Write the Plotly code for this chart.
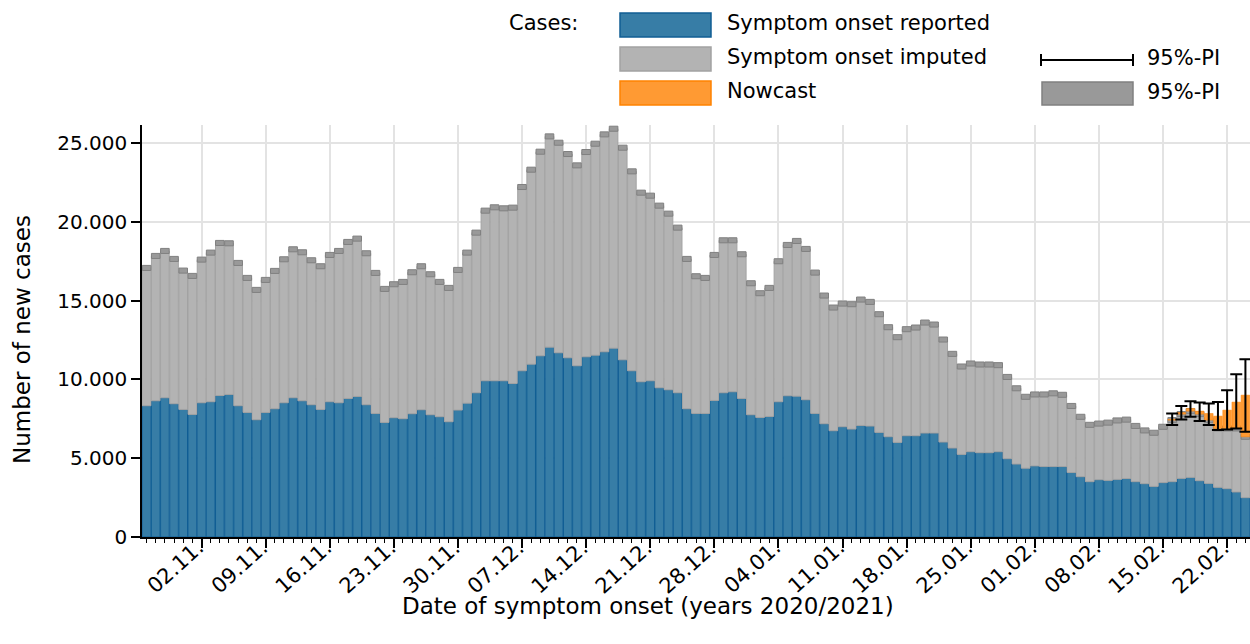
import plotly.graph_objects as go
import pandas as pd

# ---------------- data ----------------
start_date = "2020-10-27"

# cases with reported symptom onset (blue)
reported = [
    8328, 8645, 8835, 8455, 8096, 7778, 8518, 8582, 8983, 9047,
    8328, 7905, 7440, 7905, 8138, 8518, 8835, 8645, 8392, 8096,
    8582, 8518, 8793, 8920, 8392, 7842, 7271, 7567, 7504, 7821,
    8074, 7757, 7631, 7313, 8053, 8497, 9152, 9913, 9913, 9913,
    9744, 10548, 10970, 11499, 12048, 11689, 11372, 10865, 11435, 11541,
    11752, 11985, 11245, 10548, 9850, 9913, 9469, 9343, 9152, 8138,
    7842, 7842, 8666, 9152, 9216, 8793, 7757, 7588, 7652, 8582,
    8962, 8941, 8709, 7842, 7187, 6743, 6996, 6848, 7081, 7039,
    6637, 6362, 6003, 6426, 6426, 6595, 6595, 6024, 5644, 5242,
    5411, 5348, 5348, 5411, 4967, 4630, 4365, 4510, 4470, 4470,
    4470, 4090, 3826, 3509, 3636, 3593, 3657, 3710, 3509, 3382,
    3213, 3450, 3509, 3720, 3784, 3572, 3403, 3150, 3065, 2854,
    2494,
]

# reported + imputed symptom onset (top of grey bars)
onset_total = [
    17079, 17840, 18157, 17650, 16910, 16572, 17607, 18051, 18664, 18643,
    17396, 16445, 15684, 16318, 16889, 17628, 18262, 18072, 17565, 17185,
    17903, 18157, 18728, 18939, 18009, 16762, 15747, 16043, 16191, 16804,
    17185, 16677, 16191, 15811, 16952, 18051, 19319, 20714, 20926, 20862,
    20905, 22215, 23314, 24456, 25428, 25026, 24308, 23589, 24435, 24963,
    25555, 25914, 24710, 23209, 21856, 21666, 21032, 20524, 19636, 17650,
    16551, 16445, 17903, 18833, 18833, 17946, 16106, 15473, 15811, 17502,
    18537, 18791, 18284, 16783, 15325, 14564, 14817, 14775, 15071, 14923,
    14141, 13316, 12682, 13190, 13295, 13612, 13486, 12534, 11625, 10822,
    11012, 10949, 10949, 10907, 10160, 9440, 8899, 9047, 9047, 9120,
    9026, 8318, 7630, 7120, 7200, 7260, 7398, 7450, 7050, 6764,
    6616, 6996, 7419, 7800, 7990, 7800, 7419, 6891, 6891, 6891,
    6362,
]

imputed_pi_halfwidth = 160

# nowcast for the last 9 days (additional cases on top of grey bars)
nowcast_extra = [50, 100, 170, 190, 420, 780, 1160, 1670, 2640]
nowcast_lo = [7102, 7461, 7631, 7356, 7102, 6785, 6827, 6891, 6679]
nowcast_hi = [7842, 8307, 8624, 8540, 8476, 8561, 9322, 10336, 11287]

tick_start = "2020-11-02"
tick_end = "2021-02-22"

# ---------------- derived ----------------
dates = pd.date_range(start_date, periods=len(reported), freq="D")
imputed = [t - r for t, r in zip(onset_total, reported)]
n_now = len(nowcast_extra)
now_dates = dates[-n_now:]
now_base = onset_total[-n_now:]
now_total = [b + e for b, e in zip(now_base, nowcast_extra)]
tick_dates = pd.date_range(tick_start, tick_end, freq="7D")

FONT = "DejaVu Sans"
BLUE, BLUE_E = "rgb(55,125,166)", "rgb(16,94,148)"
GREY, GREY_E = "rgb(179,179,179)", "rgb(163,163,163)"
PI, PI_E = "rgb(153,153,153)", "rgb(128,128,128)"
ORANGE, ORANGE_E = "rgb(255,154,51)", "rgb(255,130,0)"

fig = go.Figure()
fig.add_trace(go.Bar(x=dates, y=reported, base=[0] * len(reported),
                     marker=dict(color=BLUE, line=dict(color=BLUE_E, width=1)),
                     name="Symptom onset reported"))
fig.add_trace(go.Bar(x=dates, y=imputed, base=reported,
                     marker=dict(color=GREY, line=dict(color=GREY_E, width=1)),
                     name="Symptom onset imputed"))
fig.add_trace(go.Bar(x=dates, y=[2 * imputed_pi_halfwidth] * len(dates),
                     base=[t - imputed_pi_halfwidth for t in onset_total],
                     marker=dict(color=PI, line=dict(color=PI_E, width=1)),
                     name="95%-PI"))
fig.add_trace(go.Bar(x=now_dates, y=nowcast_extra, base=now_base,
                     marker=dict(color=ORANGE, line=dict(color=ORANGE_E, width=0.5)),
                     name="Nowcast"))
fig.add_trace(go.Scatter(x=now_dates, y=now_total, mode="markers",
                         marker=dict(size=1, opacity=0),
                         error_y=dict(type="data", symmetric=False,
                                      array=[h - y for h, y in zip(nowcast_hi, now_total)],
                                      arrayminus=[y - l for l, y in zip(nowcast_lo, now_total)],
                                      color="black", thickness=2, width=6),
                         name="95%-PI nowcast"))

x0 = dates[0] - pd.Timedelta(hours=12)
x1 = dates[-1] + pd.Timedelta(hours=12)

L, R, T, B = 142, 0, 125, 107
W, H = 1250, 644
PW, PH = W - L - R, H - T - B


def px(x):
    return (x - L) / PW


def py(y):
    return (H - B - y) / PH


shapes = []
annotations = []


def rect(xa, xb, ya, yb, fill, line, lw=1.5):
    shapes.append(dict(type="rect", xref="paper", yref="paper",
                       x0=px(xa), x1=px(xb), y0=py(yb), y1=py(ya),
                       fillcolor=fill, line=dict(color=line, width=lw)))


def text(x, y, s, size=21, anchor="left", angle=0):
    annotations.append(dict(xref="paper", yref="paper", x=px(x), y=py(y),
                            text=s, showarrow=False, xanchor=anchor,
                            yanchor="middle", textangle=angle,
                            font=dict(family=FONT, size=size, color="black")))


rect(620, 711, 13, 37, BLUE, BLUE_E)
rect(620, 711, 47, 71, GREY, GREY_E)
rect(620, 711, 81, 105, ORANGE, ORANGE_E)
rect(1042, 1133, 82, 105, PI, PI_E)
for seg in [((1041, 60), (1133, 60)), ((1041, 54), (1041, 66)), ((1133, 54), (1133, 66))]:
    (a, b), (c, d) = seg
    shapes.append(dict(type="line", xref="paper", yref="paper",
                       x0=px(a), y0=py(b), x1=px(c), y1=py(d),
                       line=dict(color="black", width=2)))

text(507, 23, "Cases:")
text(725, 23, "Symptom onset reported")
text(725, 57, "Symptom onset imputed")
text(725, 91, "Nowcast")
text(1145, 58, "95%-PI")
text(1145, 92, "95%-PI")
text(22, 340, "Number of new cases", size=23, anchor="center", angle=-90)
text(648, 606, "Date of symptom onset (years 2020/2021)", size=23, anchor="center")

# rotated x tick labels (drawn as annotations for exact placement)
for d in tick_dates:
    annotations.append(dict(xref="x", yref="paper", x=d, y=py(534),
                            text=d.strftime("%d.%m."), showarrow=False,
                            xanchor="right", yanchor="top", textangle=-42,
                            xshift=8, borderpad=0,
                            font=dict(family=FONT, size=21, color="black")))

fig.update_layout(
    width=W, height=H,
    margin=dict(l=L, r=R, t=T, b=B),
    paper_bgcolor="white", plot_bgcolor="white",
    barmode="overlay", bargap=0.06,
    showlegend=False,
    separators=",.",
    font=dict(family=FONT, size=20, color="black"),
    shapes=shapes, annotations=annotations,
)
fig.update_xaxes(
    type="date", range=[x0, x1], automargin=False,
    tick0=tick_start, dtick=7 * 86400000, showticklabels=False,
    ticks="outside", ticklen=9, tickwidth=1.5, tickcolor="black",
    showgrid=True, gridcolor="rgb(227,227,227)", gridwidth=1.5,
    showline=True, linecolor="black", linewidth=1.5,
    minor=dict(ticks="outside", ticklen=4, tickwidth=1.2, tickcolor="black",
               dtick=86400000, tick0=start_date, showgrid=False),
    zeroline=False,
)
fig.update_yaxes(
    range=[0, 26150], dtick=5000, tickformat=",d", automargin=False,
    ticks="outside", ticklen=9, tickwidth=1.5, tickcolor="black",
    tickfont=dict(family=FONT, size=20),
    showgrid=True, gridcolor="rgb(227,227,227)", gridwidth=1.5,
    showline=True, linecolor="black", linewidth=1.5, zeroline=False,
)

fig.write_html("out.html", config={"displayModeBar": False},
               post_script="document.body.style.margin='0';document.body.style.padding='0';")
